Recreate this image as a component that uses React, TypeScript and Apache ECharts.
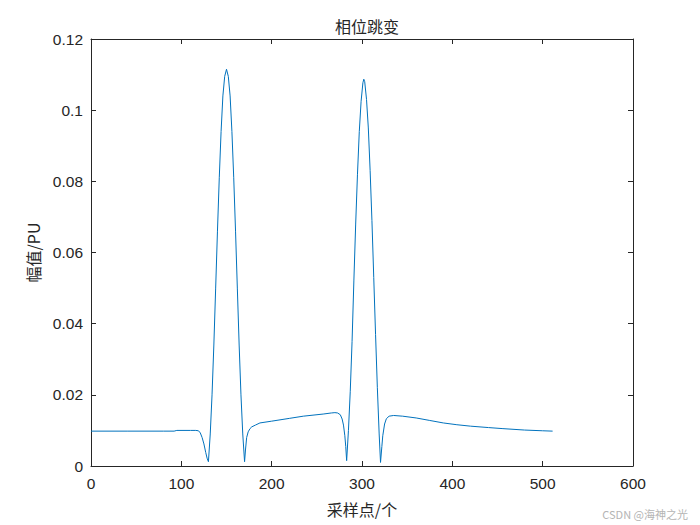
import React, { useEffect, useRef } from 'react';
import * as echarts from 'echarts';

// 采样点 (x) 与 幅值 (y)
const sampleX: number[] = [
  0, 40, 80, 92, 95, 110, 116, 119, 121, 123, 125, 127, 128.5, 130,
  132, 134, 136, 138, 140, 142, 144, 146, 148, 150, 152, 154, 156, 158, 160, 162, 164, 166, 168, 170,
  171, 172.3, 174, 176, 178, 182, 187, 200, 220, 235, 257, 266, 270, 273, 276, 278, 279.5, 281, 282, 283,
  285, 287, 289, 291, 293, 295, 297, 299, 301, 302, 303, 305, 307, 309, 311, 313, 315, 317, 319, 320.5,
  322, 323, 325, 327, 330, 335, 345, 360, 375, 390, 405, 420, 440, 456, 480, 500, 511,
];

const amplitude: number[] = [
  0.0098, 0.0098, 0.0098, 0.0098, 0.01, 0.01, 0.01, 0.0099, 0.0093, 0.008, 0.0062, 0.0038, 0.0022, 0.0012,
  0.009, 0.02, 0.034, 0.05, 0.066, 0.081, 0.094, 0.104, 0.1095, 0.1115, 0.1095, 0.104, 0.094, 0.081, 0.066, 0.05, 0.034, 0.02, 0.009, 0.0012,
  0.0045, 0.008, 0.0096, 0.0105, 0.011, 0.0115, 0.0121, 0.0126, 0.0134, 0.014, 0.0146, 0.0149, 0.015, 0.0149, 0.0144, 0.0132, 0.0115, 0.0085, 0.0055, 0.0015,
  0.01, 0.021, 0.035, 0.052, 0.068, 0.082, 0.094, 0.1025, 0.1077, 0.1087, 0.108, 0.103, 0.095, 0.083, 0.069, 0.053, 0.037, 0.022, 0.009, 0.001,
  0.0055, 0.0085, 0.0118, 0.0133, 0.014, 0.0142, 0.014, 0.0135, 0.0128, 0.0121, 0.0116, 0.0112, 0.0108, 0.0105, 0.0101, 0.0099, 0.0098,
];

const xTicks = { min: 0, max: 600, interval: 100 };
const yTicks = { min: 0, max: 0.12, interval: 0.02 };

const axisColor = '#262626';
const numFont = 'Liberation Sans, Arial, sans-serif';
const cjkFont = 'Noto Sans CJK SC, sans-serif';

function App() {
  const chartRef = useRef<HTMLDivElement | null>(null);

  useEffect(() => {
    if (!chartRef.current) return undefined;
    const chart = echarts.init(chartRef.current, null, { renderer: 'svg' });

    const tick = { show: true, inside: true, length: 5, lineStyle: { color: axisColor, width: 1 } };
    const line = { show: true, onZero: false, lineStyle: { color: axisColor, width: 1 } };

    chart.setOption({
      animation: false,
      backgroundColor: '#ffffff',
      title: {
        text: '相位跳变',
        left: 362,
        top: 13,
        textAlign: 'center',
        textStyle: { fontFamily: cjkFont, fontSize: 16, fontWeight: 'normal', color: axisColor },
      },
      grid: { left: 91, right: 67, top: 39, bottom: 59 },
      xAxis: [
        {
          type: 'value',
          ...xTicks,
          name: '采样点/个',
          nameLocation: 'middle',
          nameGap: 35,
          nameTextStyle: { fontFamily: cjkFont, fontSize: 16, color: axisColor },
          axisLine: line,
          axisTick: tick,
          axisLabel: { fontFamily: numFont, fontSize: 15.5, color: axisColor, margin: 9 },
          splitLine: { show: false },
        },
        {
          type: 'value',
          position: 'top',
          ...xTicks,
          axisLine: line,
          axisTick: tick,
          axisLabel: { show: false },
          splitLine: { show: false },
        },
      ],
      yAxis: [
        {
          type: 'value',
          ...yTicks,
          name: '幅值/PU',
          nameLocation: 'middle',
          nameGap: 50,
          nameTextStyle: { fontFamily: cjkFont, fontSize: 16, color: axisColor },
          axisLine: line,
          axisTick: tick,
          axisLabel: { fontFamily: numFont, fontSize: 15.5, color: axisColor, margin: 8 },
          splitLine: { show: false },
        },
        {
          type: 'value',
          position: 'right',
          ...yTicks,
          axisLine: line,
          axisTick: tick,
          axisLabel: { show: false },
          splitLine: { show: false },
        },
      ],
      series: [
        {
          type: 'line',
          data: sampleX.map((x, i) => [x, amplitude[i]]),
          showSymbol: false,
          lineStyle: { color: '#0072BD', width: 1 },
          itemStyle: { color: '#0072BD' },
        },
      ],
      graphic: [
        {
          type: 'text',
          right: 12,
          bottom: 6,
          style: {
            text: 'CSDN @海神之光',
            fontFamily: cjkFont,
            fontSize: 11,
            fill: '#b4b4b4',
          },
        },
      ],
    });

    return () => {
      chart.dispose();
    };
  }, []);

  return (
    <div
      ref={chartRef}
      style={{ position: 'absolute', left: 0, top: 0, width: '700px', height: '525px' }}
    />
  );
}

export default App;
